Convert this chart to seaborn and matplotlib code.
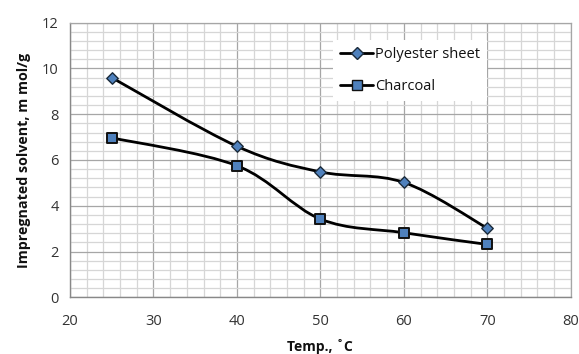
import numpy as np
import pandas as pd
import matplotlib
matplotlib.use("Agg")
import matplotlib.pyplot as plt
from matplotlib.path import Path
from matplotlib.patches import PathPatch
from matplotlib.lines import Line2D
from matplotlib.ticker import MultipleLocator
import seaborn as sns

temps = [25, 40, 50, 60, 70]
polyester = [9.6, 6.6, 5.48, 5.02, 3.02]
charcoal = [6.97, 5.75, 3.42, 2.82, 2.31]
series_names = ["Polyester sheet", "Charcoal"]
x_label = "Temp., ˚C"
y_label = "Impregnated solvent, m mol/g"

sns.set_theme(style="white")
plt.rcParams['font.family'] = ['Open Sans', 'DejaVu Sans']

fig = plt.figure(figsize=(5.79, 3.54), dpi=100)
ax = fig.add_axes([0.1209, 0.1602, 0.8648, 0.7757])

df = pd.DataFrame({
    "temp": temps * 2,
    "value": polyester + charcoal,
    "series": [series_names[0]] * len(temps) + [series_names[1]] * len(temps),
})

fill = "#4F81BD"


def smooth_path(xs, ys, tension=0.5):
    xs = np.asarray(xs, float)
    ys = np.asarray(ys, float)
    n = len(xs)
    verts = [(xs[0], ys[0])]
    codes = [Path.MOVETO]
    for i in range(n - 1):
        p0 = np.array([xs[max(i - 1, 0)], ys[max(i - 1, 0)]])
        p1 = np.array([xs[i], ys[i]])
        p2 = np.array([xs[i + 1], ys[i + 1]])
        p3 = np.array([xs[min(i + 2, n - 1)], ys[min(i + 2, n - 1)]])
        c1 = p1 + (p2 - p0) * tension / 3
        c2 = p2 - (p3 - p1) * tension / 3
        verts += [tuple(c1), tuple(c2), tuple(p2)]
        codes += [Path.CURVE4] * 3
    return Path(verts, codes)


for vals in (polyester, charcoal):
    ax.add_patch(PathPatch(smooth_path(temps, vals, 0.5), fill=False,
                           edgecolor="black", lw=2.0, zorder=3))

sub_p = df[df.series == series_names[0]]
sub_c = df[df.series == series_names[1]]
sns.scatterplot(x=sub_p.temp, y=sub_p.value, marker="D", s=34, color=fill,
                edgecolor="#1a2a3a", linewidth=1.0, ax=ax, zorder=4, legend=False)
sns.scatterplot(x=sub_c.temp, y=sub_c.value, marker="s", s=58, color=fill,
                edgecolor="#111111", linewidth=1.4, ax=ax, zorder=4, legend=False)

ax.set_xlim(20, 80)
ax.set_ylim(0, 12)
ax.xaxis.set_major_locator(MultipleLocator(10))
ax.xaxis.set_minor_locator(MultipleLocator(2))
ax.yaxis.set_major_locator(MultipleLocator(2))
ax.yaxis.set_minor_locator(MultipleLocator(0.4))
ax.grid(True, which="major", color="#a6a6a6", lw=0.9)
ax.grid(True, which="minor", color="#d6d6d6", lw=0.9)
ax.set_axisbelow(True)

for s in ["left", "bottom"]:
    ax.spines[s].set_color("#888888")
    ax.spines[s].set_linewidth(1.0)
ax.spines["right"].set_color("#a6a6a6")
ax.spines["top"].set_color("#a6a6a6")
ax.spines["right"].set_linewidth(0.9)
ax.spines["top"].set_linewidth(0.9)

ax.tick_params(axis="both", which="major", direction="out", length=4, width=1,
               color="#888888", labelsize=10.5, labelcolor="#333333", pad=4)
ax.tick_params(axis="both", which="minor", length=0)
ax.tick_params(axis="x", pad=8)

ax.set_xlabel(x_label, fontsize=10, fontweight="bold", labelpad=7, color="#111111")
ax.set_ylabel(y_label, fontsize=10.3, fontweight="bold", labelpad=8, color="#111111")

handles = [
    Line2D([], [], color="black", lw=2, marker="D", markersize=6,
           markerfacecolor=fill, markeredgecolor="#1a2a3a"),
    Line2D([], [], color="black", lw=2, marker="s", markersize=7.5,
           markerfacecolor=fill, markeredgecolor="#111111"),
]
leg = ax.legend(handles, series_names, loc="upper left",
                bbox_to_anchor=(0.51, 0.965), frameon=True, fancybox=False,
                framealpha=1, edgecolor="white", fontsize=10.5,
                handlelength=2.3, handletextpad=0.1, labelspacing=1.15,
                borderpad=0.5)
leg.get_frame().set_linewidth(0)
for t in leg.get_texts():
    t.set_color("#111111")

fig.savefig("out.png", dpi=100, facecolor="white")
